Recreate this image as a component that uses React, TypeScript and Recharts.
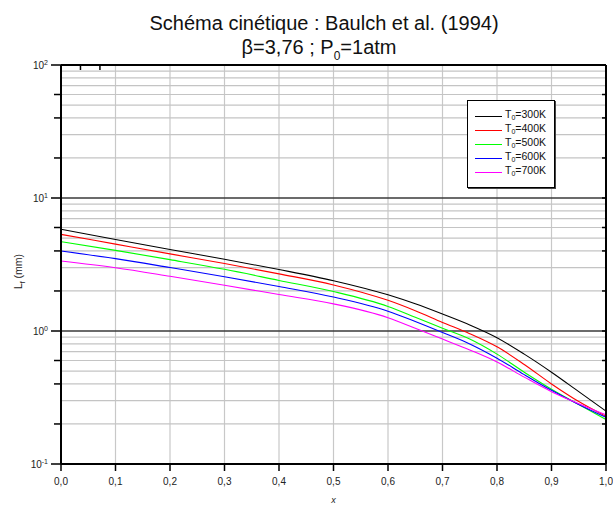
import { CartesianGrid, Legend, Line, LineChart, ReferenceLine, XAxis, YAxis } from "recharts";

const FONT = '"Liberation Sans", Arial, sans-serif';

// x values and L_f (mm) for each initial temperature T0
const X = [0, 0.1, 0.2, 0.3, 0.4, 0.5, 0.6, 0.65, 0.7, 0.75, 0.8, 0.85, 0.9, 0.95, 1.0];
const T300 = [5.82, 4.88, 4.1, 3.46, 2.9, 2.39, 1.87, 1.6, 1.34, 1.11, 0.89, 0.67, 0.49, 0.35, 0.25];
const T400 = [5.33, 4.5, 3.8, 3.22, 2.69, 2.22, 1.7, 1.42, 1.16, 0.955, 0.76, 0.56, 0.4, 0.295, 0.228];
const T500 = [4.69, 4.04, 3.44, 2.91, 2.4, 1.98, 1.53, 1.27, 1.05, 0.87, 0.67, 0.49, 0.365, 0.28, 0.216];
const T600 = [4.0, 3.5, 3.0, 2.56, 2.16, 1.8, 1.41, 1.18, 0.975, 0.8, 0.625, 0.47, 0.358, 0.28, 0.224];
const T700 = [3.36, 2.99, 2.58, 2.21, 1.88, 1.6, 1.26, 1.05, 0.87, 0.72, 0.585, 0.45, 0.35, 0.284, 0.234];

const TEMPS = ["300", "400", "500", "600", "700"];
const COLORS = ["#000000", "#ff0000", "#00ff00", "#0000ff", "#ff00ff"];
const SERIES = [T300, T400, T500, T600, T700];

const X_TICKS = [0, 0.1, 0.2, 0.3, 0.4, 0.5, 0.6, 0.7, 0.8, 0.9, 1.0];
const Y_TICKS = [
  0.1, 0.2, 0.3, 0.4, 0.5, 0.6, 0.7, 0.8, 0.9,
  1, 2, 3, 4, 5, 6, 7, 8, 9,
  10, 20, 30, 40, 50, 60, 70, 80, 90,
  100,
];
const DECADES = [1, 10];
const MINOR = Y_TICKS.filter((v) => !DECADES.includes(v) && v !== 0.1 && v !== 100);

const data = X.map((x, i) => {
  const row: any = { x };
  TEMPS.forEach((t, k) => (row[`t${t}`] = SERIES[k][i]));
  return row;
});

function LogTick({ x, y, payload }: any) {
  const lg = Math.log10(payload.value);
  const exp = Math.round(lg);
  const major = Math.abs(lg - exp) < 1e-6;
  return (
    <g>
      <line x1={x - (major ? 10 : 7)} x2={x} y1={y} y2={y} stroke="#000" strokeWidth={1.5} />
      {major && (
        <text x={x - 13} y={y + 3.5} textAnchor="end" fontSize={10} fill="#222" fontFamily={FONT}>
          10
          <tspan dy={-4} fontSize={7}>
            {exp}
          </tspan>
        </text>
      )}
    </g>
  );
}

function LegendBox({ payload }: any) {
  return (
    <div
      style={{
        boxSizing: "border-box",
        width: 88,
        height: 88,
        border: "1px solid #000",
        boxShadow: "1px 1px 0 #444",
        background: "#fff",
        paddingTop: 8,
        fontFamily: FONT,
        fontSize: 10.5,
        color: "#111",
      }}
    >
      {(payload || []).map((p: any) => (
        <div key={p.dataKey} style={{ height: 14, display: "flex", alignItems: "center" }}>
          <span style={{ display: "inline-block", width: 27, height: 0, borderTop: `1px solid ${p.color}`, marginLeft: 7, marginRight: 3 }} />
          <span style={{ whiteSpace: "nowrap", lineHeight: "14px" }}>
            T<sub style={{ fontSize: 7, verticalAlign: "-2px" }}>0</sub>={String(p.dataKey).slice(1)}K
          </span>
        </div>
      ))}
    </div>
  );
}

export default function App() {
  return (
    <div style={{ position: "absolute", left: 0, top: 0, width: 613, height: 505, background: "#fff" }}>
      <svg width={613} height={70} style={{ position: "absolute", left: 0, top: 0 }}>
        <text x={324} y={29.5} textAnchor="middle" fontSize={20} fill="#111" fontFamily={FONT}>
          Schéma cinétique : Baulch et al. (1994)
        </text>
        <text x={319} y={54} textAnchor="middle" fontSize={20} fill="#111" fontFamily={FONT}>
          β=3,76 ; P
          <tspan dy={6} fontSize={12}>0</tspan>
          <tspan dy={-6}>=1atm</tspan>
        </text>
      </svg>
      <LineChart
        width={613}
        height={505}
        data={data}
        margin={{ top: 64, right: 6, bottom: 40, left: 60 }}
        style={{ fontFamily: FONT }}
      >
        <CartesianGrid stroke="#c8c8c8" strokeWidth={1.2} horizontal={false} />
        {MINOR.map((v) => (
          <ReferenceLine key={`m${v}`} y={v} stroke="#c4c4c4" strokeWidth={1.2} />
        ))}
        {DECADES.map((d) => (
          <ReferenceLine key={d} y={d} stroke="#3a3a3a" strokeWidth={1.6} />
        ))}
        <XAxis
          dataKey="x"
          type="number"
          domain={[0, 1]}
          ticks={X_TICKS}
          tickFormatter={(v) => Number(v).toFixed(1).replace(".", ",")}
          height={1}
          tickSize={7}
          tickMargin={7}
          tick={{ fontSize: 10, fill: "#222" }}
          axisLine={{ stroke: "#000", strokeWidth: 2 }}
          tickLine={{ stroke: "#000", strokeWidth: 1.5 }}
          label={{
            content: ({ viewBox }: any) => (
              <text x={viewBox.x + viewBox.width / 2} y={viewBox.y + 39} textAnchor="middle" fontSize={9} fontStyle="italic" fill="#222">
                x
              </text>
            ),
          }}
        />
        <XAxis
          xAxisId="top"
          orientation="top"
          type="number"
          domain={[0, 1]}
          ticks={X_TICKS}
          height={1}
          tickSize={-5}
          tick={() => <g />}
          axisLine={{ stroke: "#000", strokeWidth: 2 }}
          tickLine={{ stroke: "#000", strokeWidth: 1.5 }}
        />
        <YAxis
          scale="log"
          type="number"
          domain={[0.1, 100]}
          allowDataOverflow
          ticks={Y_TICKS}
          width={1}
          tick={<LogTick />}
          tickLine={false}
          tickSize={0}
          tickMargin={0}
          axisLine={{ stroke: "#000", strokeWidth: 2 }}
          label={{
            content: ({ viewBox }: any) => {
              const lx = viewBox.x + viewBox.width - 39;
              const ly = viewBox.y + viewBox.height / 2 + 7;
              return (
                <text x={lx} y={ly} transform={`rotate(-90 ${lx} ${ly})`} textAnchor="middle" fontSize={10.5} fill="#222">
                  L<tspan dy={3} fontSize={7}>f</tspan>
                  <tspan dy={-3}> (mm)</tspan>
                </text>
              );
            },
          }}
        />
        <YAxis
          yAxisId="right"
          orientation="right"
          scale="log"
          type="number"
          domain={[0.1, 100]}
          allowDataOverflow
          ticks={Y_TICKS}
          width={1}
          tickSize={-4}
          tick={() => <g />}
          axisLine={{ stroke: "#000", strokeWidth: 2 }}
          tickLine={{ stroke: "#000", strokeWidth: 1.5 }}
        />
        {TEMPS.map((t, k) => (
          <Line
            key={t}
            type="monotone"
            dataKey={`t${t}`}
            name={`T0=${t}K`}
            stroke={COLORS[k]}
            strokeWidth={1.1}
            dot={false}
            isAnimationActive={false}
          />
        ))}
        <Legend
          layout="vertical"
          align="center"
          verticalAlign="middle"
          content={<LegendBox />}
          wrapperStyle={{ left: 467, top: 100, width: 88, height: 88 }}
        />
      </LineChart>
    </div>
  );
}
